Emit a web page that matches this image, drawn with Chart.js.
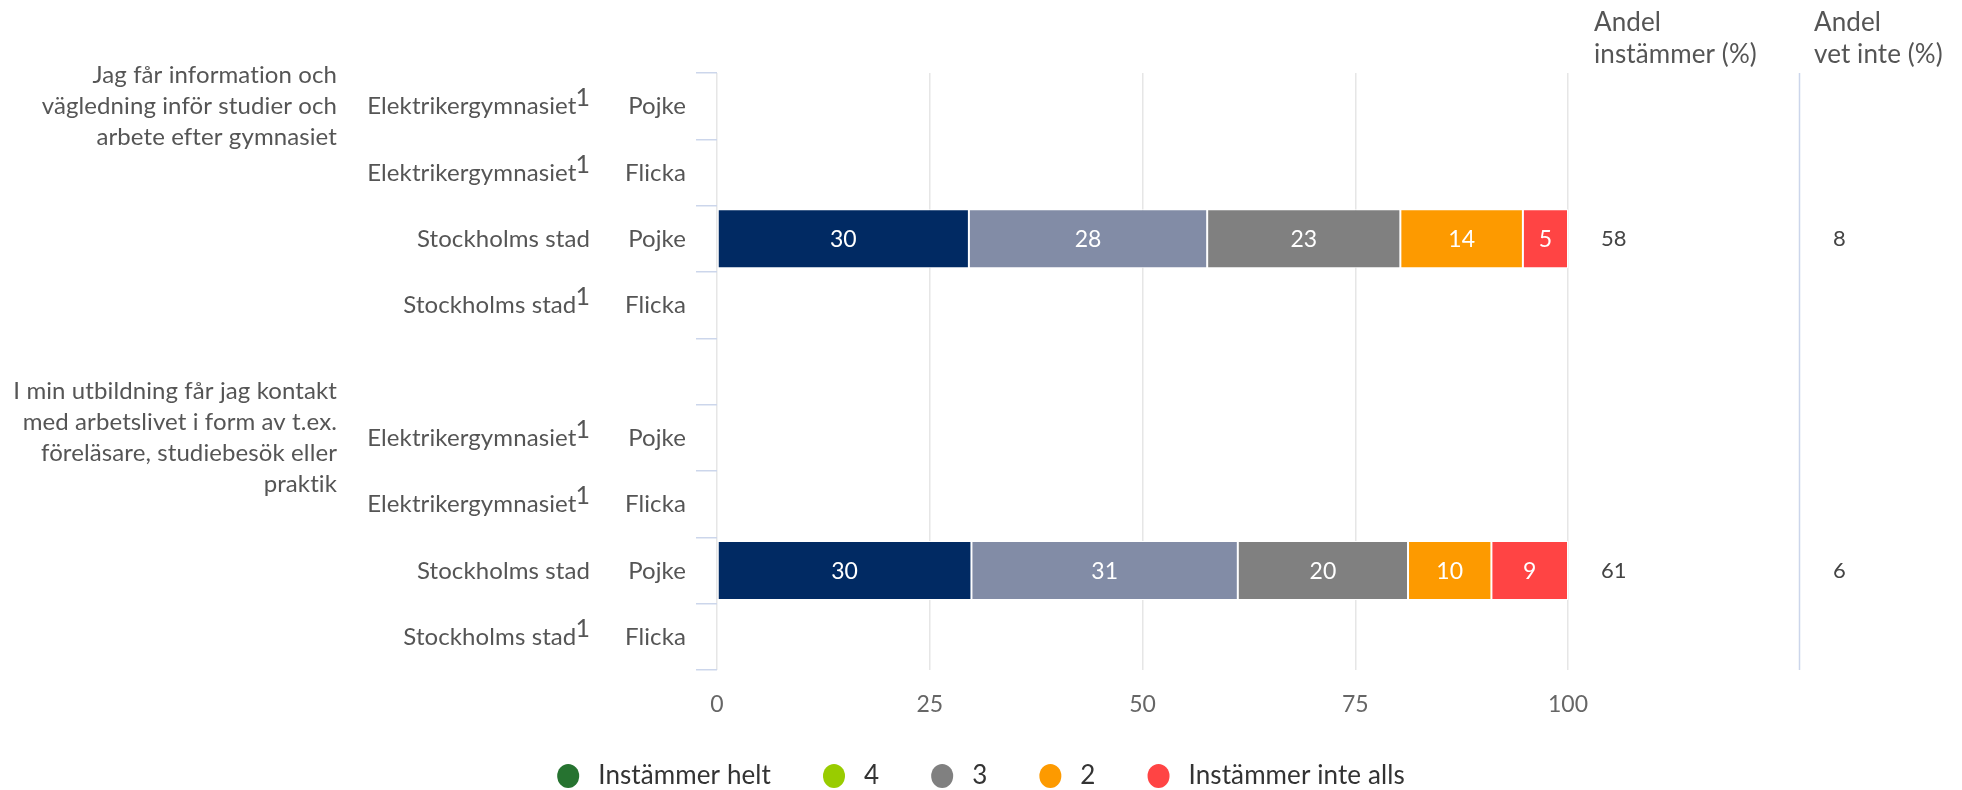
<!DOCTYPE html>
<html>
<head>
<meta charset="utf-8">
<script src="https://cdn.jsdelivr.net/npm/chart.js@4/dist/chart.umd.min.js"></script>
<style>
  html, body { margin: 0; padding: 0; background: #ffffff; }
  #wrap { width: 1962px; height: 790px; }
</style>
</head>
<body>
<div id="wrap"><canvas id="c" width="1962" height="790"></canvas></div>
<script>
// ---------- DATA ----------
const schools   = ['Elektrikergymnasiet', 'Elektrikergymnasiet', 'Stockholms stad', 'Stockholms stad', '',
                   'Elektrikergymnasiet', 'Elektrikergymnasiet', 'Stockholms stad', 'Stockholms stad'];
const footnotes = ['1', '1', '', '1', '', '1', '1', '', '1'];
const genders   = ['Pojke', 'Flicka', 'Pojke', 'Flicka', '', 'Pojke', 'Flicka', 'Pojke', 'Flicka'];
const questions = [
  ['Jag får information och', 'vägledning inför studier och', 'arbete efter gymnasiet'],
  ['I min utbildning får jag kontakt', 'med arbetslivet i form av t.ex.', 'föreläsare, studiebesök eller', 'praktik']
];
const questionRows = [0, 5];

const seriesNames = ['Instämmer helt', '4', '3', '2', 'Instämmer inte alls'];
const instammerHelt = [null, null, 29.6, null, null, null, null, 29.9, null];
const svar4         = [null, null, 28.0, null, null, null, null, 31.3, null];
const svar3         = [null, null, 22.7, null, null, null, null, 20.0, null];
const svar2         = [null, null, 14.4, null, null, null, null, 9.8,  null];
const instammerInte = [null, null, 5.3,  null, null, null, null, 9.0,  null];

const andelInstammer = [null, null, 58, null, null, null, null, 61, null];
const andelVetInte   = [null, null, 8,  null, null, null, null, 6,  null];

const xTicks = [0, 25, 50, 75, 100];
const colHeaders = [['Andel', 'instämmer (%)'], ['Andel', 'vet inte (%)']];

// ---------- STYLE ----------
const barColors    = ['#012a63', '#828ca6', '#808080', '#fd9a00', '#ff4444'];
const legendColors = ['#267330', '#99cc00', '#808080', '#fd9a00', '#ff4444'];
const FONT = 'Lato, "Open Sans", sans-serif';
const TEXT = '#555555';

Chart.defaults.font.family = FONT;

const seriesData = [instammerHelt, svar4, svar3, svar2, instammerInte];

const labelsPlugin = {
  id: 'customLabels',
  afterDraw(chart) {
    const ctx = chart.ctx;
    const y = chart.scales.y;
    const area = chart.chartArea;
    ctx.save();
    if ('letterSpacing' in ctx) ctx.letterSpacing = '0.1px';

    // category labels
    ctx.fillStyle = TEXT;
    ctx.textBaseline = 'alphabetic';
    for (let i = 0; i < schools.length; i++) {
      const cy = y.getPixelForValue(i);
      const base = cy + 8;
      let right = 590;
      if (footnotes[i]) {
        ctx.font = '25px ' + FONT;
        ctx.textAlign = 'right';
        ctx.fillText(footnotes[i], right, base - 8);
        right -= ctx.measureText(footnotes[i]).width - 1;
      }
      ctx.font = '24px ' + FONT;
      ctx.textAlign = 'right';
      if (schools[i]) ctx.fillText(schools[i], right, base);
      if (genders[i]) ctx.fillText(genders[i], 686, base);
    }

    // question labels, centred on first row of their group
    ctx.font = '24px ' + FONT;
    ctx.textAlign = 'right';
    ctx.textBaseline = 'middle';
    const lh = 31;
    questions.forEach((lines, q) => {
      const cy = y.getPixelForValue(questionRows[q]);
      const top = cy - (lines.length - 1) * lh / 2;
      lines.forEach((ln, k) => ctx.fillText(ln, 337, top + k * lh));
    });

    // right columns
    ctx.strokeStyle = '#ccd6eb';
    ctx.lineWidth = 1.5;
    ctx.beginPath();
    ctx.moveTo(1799.5, area.top);
    ctx.lineTo(1799.5, area.bottom);
    ctx.stroke();

    ctx.textAlign = 'left';
    ctx.textBaseline = 'middle';
    ctx.font = '26px ' + FONT;
    ctx.fillStyle = TEXT;
    const hx = [1594, 1814];
    colHeaders.forEach((lines, c) => {
      lines.forEach((ln, k) => ctx.fillText(ln, hx[c], 23 + k * 32));
    });
    ctx.font = '22px ' + FONT;
    ctx.fillStyle = '#444444';
    for (let i = 0; i < andelInstammer.length; i++) {
      const cy = y.getPixelForValue(i);
      if (andelInstammer[i] !== null) ctx.fillText(String(andelInstammer[i]), 1601, cy);
      if (andelVetInte[i] !== null) ctx.fillText(String(andelVetInte[i]), 1833, cy);
    }

    // legend
    ctx.font = '26px ' + FONT;
    ctx.textBaseline = 'middle';
    const r = 11, toText = 30, gapNext = 63;
    let total = 0;
    const widths = seriesNames.map(n => ctx.measureText(n).width);
    widths.forEach((w, k) => { total += r + toText + w + (k < widths.length - 1 ? gapNext - r : 0); });
    let x = (chart.width - total) / 2;
    const ly = 776;
    seriesNames.forEach((n, k) => {
      const cx = x + r;
      ctx.fillStyle = legendColors[k];
      ctx.beginPath();
      ctx.ellipse(cx, ly, r, r + 1, 0, 0, Math.PI * 2);
      ctx.fill();
      ctx.fillStyle = '#333333';
      ctx.textAlign = 'left';
      ctx.fillText(n, cx + toText, ly);
      x = cx + toText + widths[k] + gapNext - r;
    });
    ctx.restore();
  },
  afterDatasetsDraw(chart) {
    const ctx = chart.ctx;
    ctx.save();
    ctx.font = '23px ' + FONT;
    ctx.fillStyle = '#ffffff';
    ctx.textAlign = 'center';
    ctx.textBaseline = 'middle';
    chart.data.datasets.forEach((ds, d) => {
      const meta = chart.getDatasetMeta(d);
      meta.data.forEach((el, i) => {
        const v = ds.data[i];
        if (v === null || v === undefined) return;
        const p = el.getCenterPoint();
        ctx.fillText(String(Math.round(v)), p.x, p.y + 1);
      });
    });
    ctx.restore();
  }
};

new Chart(document.getElementById('c'), {
  type: 'bar',
  data: {
    labels: schools.map((s, i) => s ? s + ' ' + genders[i] : ''),
    datasets: seriesNames.map((name, k) => ({
      label: name,
      data: seriesData[k],
      backgroundColor: barColors[k],
      borderColor: '#ffffff',
      borderWidth: 1,
      borderSkipped: false,
      barPercentage: 0.89,
      categoryPercentage: 1.0
    }))
  },
  options: {
    indexAxis: 'y',
    responsive: false,
    devicePixelRatio: 1,
    animation: false,
    layout: { padding: { left: 0, right: 394, top: 73, bottom: 50 } },
    plugins: {
      legend: { display: false },
      tooltip: { enabled: false },
      title: { display: false }
    },
    scales: {
      x: {
        type: 'linear',
        stacked: true,
        min: 0,
        max: 100,
        afterBuildTicks(scale) { scale.ticks = xTicks.map(v => ({ value: v })); },
        afterFit(scale) { scale.height = 70; },
        grid: { color: '#e6e6e6', lineWidth: 1.5, drawTicks: false },
        border: { display: false },
        ticks: { padding: 21, color: '#666666', font: { size: 23 } }
      },
      y: {
        type: 'category',
        stacked: true,
        afterFit(scale) { scale.width = 717; },
        grid: { drawOnChartArea: false, drawTicks: true, tickLength: 21, color: '#ccd6eb', lineWidth: 1.5, offset: true },
        border: { display: false },
        ticks: { display: false }
      }
    }
  },
  plugins: [labelsPlugin]
});
</script>
</body>
</html>
